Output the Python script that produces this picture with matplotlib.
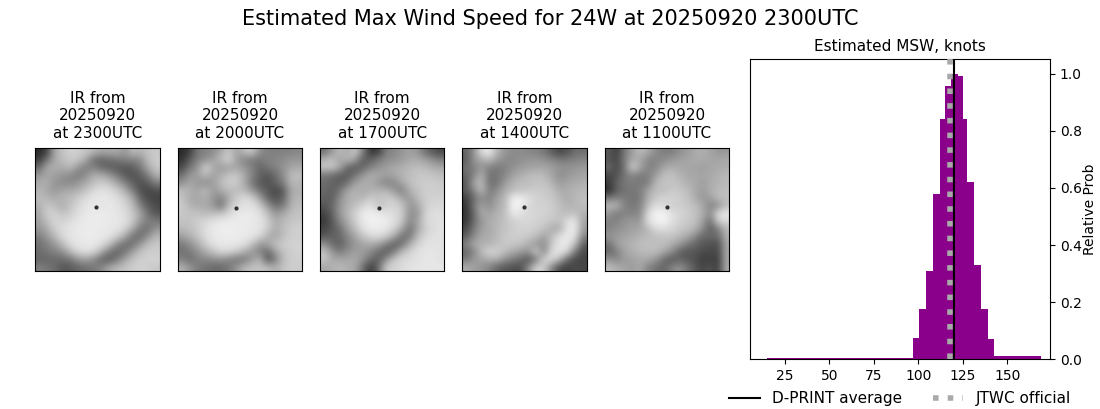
from matplotlib import pyplot as plt

#%% Data
main_title = "Estimated Max Wind Speed for 24W at 20250920 2300UTC"
ir_times = ["2300UTC", "2000UTC", "1700UTC", "1400UTC", "1100UTC"]

# Histogram
bin_edges = [15, 97, 100.4, 104.3, 108.3, 112.2, 115, 118.4, 122.3, 125, 127.4, 131.3, 135.2, 139.2, 142.6, 169]
rel_prob = [0.006, 0.075, 0.175, 0.31, 0.58, 0.84, 0.955, 1.0, 0.99, 0.84, 0.62, 0.33, 0.175, 0.07, 0.012]
dprint_avg = 120.2
jtwc_official = 118

# Coarse brightness of each IR panel (0-255), estimated by eye on a 16x16 grid
ir_2300 = [
    [40, 60, 170, 195, 210, 205, 200, 185, 170, 170, 175, 150, 190, 180, 195, 200],
    [60, 110, 170, 190, 200, 200, 170, 110, 100, 110, 120, 130, 130, 140, 190, 205],
    [100, 170, 175, 170, 190, 150, 125, 130, 105, 95, 90, 85, 95, 120, 170, 200],
    [150, 165, 160, 150, 140, 120, 140, 175, 170, 150, 120, 90, 80, 95, 130, 180],
    [170, 175, 150, 140, 135, 150, 170, 190, 205, 195, 165, 130, 95, 80, 95, 130],
    [180, 170, 150, 165, 170, 175, 195, 215, 225, 220, 205, 175, 125, 80, 70, 80],
    [190, 180, 170, 185, 185, 205, 220, 230, 232, 230, 220, 205, 170, 100, 75, 65],
    [175, 200, 190, 170, 195, 215, 228, 232, 225, 232, 228, 215, 190, 130, 90, 75],
    [165, 205, 210, 195, 205, 222, 232, 235, 235, 232, 230, 222, 200, 165, 110, 85],
    [160, 190, 215, 210, 220, 230, 235, 235, 235, 232, 230, 225, 205, 150, 130, 120],
    [150, 170, 205, 220, 228, 232, 235, 235, 232, 232, 228, 215, 170, 120, 110, 150],
    [125, 150, 185, 215, 228, 232, 235, 235, 232, 228, 210, 170, 115, 105, 150, 185],
    [110, 130, 150, 190, 220, 230, 232, 232, 225, 195, 140, 110, 110, 155, 190, 200],
    [110, 120, 130, 140, 185, 215, 225, 215, 175, 120, 100, 115, 160, 195, 205, 205],
    [100, 100, 105, 110, 115, 150, 160, 140, 100, 90, 120, 165, 195, 205, 210, 210],
    [130, 120, 110, 85, 90, 100, 110, 120, 135, 170, 185, 195, 205, 210, 205, 200],
]
ir_2000 = [
    [40, 60, 120, 130, 140, 165, 200, 160, 190, 205, 140, 130, 125, 130, 130, 135],
    [50, 90, 130, 140, 160, 190, 215, 160, 130, 120, 120, 130, 135, 140, 150, 150],
    [70, 120, 145, 215, 175, 150, 160, 165, 150, 130, 100, 120, 130, 150, 165, 170],
    [110, 150, 160, 190, 160, 175, 195, 200, 170, 130, 100, 85, 110, 140, 190, 190],
    [140, 170, 150, 140, 155, 190, 205, 205, 170, 120, 90, 80, 100, 130, 185, 180],
    [190, 175, 165, 190, 155, 170, 190, 185, 185, 150, 110, 90, 70, 90, 170, 175],
    [195, 170, 165, 175, 150, 130, 170, 205, 220, 210, 160, 100, 80, 100, 175, 180],
    [205, 180, 170, 170, 155, 110, 190, 215, 225, 225, 205, 150, 110, 120, 180, 190],
    [200, 195, 195, 185, 190, 195, 215, 230, 235, 232, 225, 190, 150, 170, 190, 195],
    [195, 195, 205, 215, 225, 232, 235, 235, 235, 232, 230, 205, 170, 185, 195, 200],
    [185, 190, 205, 222, 232, 238, 238, 235, 235, 232, 228, 205, 170, 190, 205, 210],
    [160, 175, 195, 220, 232, 235, 235, 235, 232, 230, 215, 175, 165, 190, 205, 205],
    [120, 145, 170, 205, 225, 232, 232, 232, 225, 195, 150, 165, 195, 205, 210, 210],
    [115, 120, 145, 170, 195, 215, 215, 200, 175, 150, 130, 105, 160, 195, 205, 210],
    [130, 110, 130, 135, 140, 145, 130, 115, 120, 155, 185, 80, 130, 190, 205, 205],
    [180, 150, 125, 115, 105, 105, 120, 150, 185, 195, 195, 190, 175, 195, 205, 205],
]
ir_1700 = [
    [110, 150, 190, 165, 205, 130, 50, 60, 130, 135, 150, 160, 150, 110, 85, 70],
    [175, 195, 160, 190, 160, 90, 100, 125, 140, 145, 155, 170, 170, 160, 140, 125],
    [200, 200, 175, 100, 90, 100, 130, 145, 160, 170, 175, 185, 190, 185, 175, 165],
    [120, 110, 95, 90, 115, 150, 175, 170, 160, 170, 180, 190, 200, 200, 195, 190],
    [110, 100, 90, 110, 160, 175, 170, 150, 130, 135, 170, 190, 200, 205, 205, 200],
    [105, 95, 115, 165, 180, 170, 175, 180, 180, 150, 125, 180, 195, 205, 205, 205],
    [100, 90, 140, 175, 180, 180, 205, 195, 205, 200, 165, 150, 190, 205, 210, 210],
    [85, 100, 150, 175, 190, 215, 225, 190, 205, 215, 200, 150, 165, 205, 215, 215],
    [65, 95, 150, 185, 210, 235, 240, 235, 225, 220, 205, 140, 150, 210, 225, 220],
    [55, 85, 135, 170, 205, 232, 240, 240, 235, 225, 200, 135, 165, 215, 220, 225],
    [70, 85, 110, 155, 190, 225, 235, 235, 230, 210, 170, 110, 165, 205, 220, 225],
    [85, 100, 100, 135, 165, 195, 215, 220, 205, 170, 110, 120, 190, 215, 225, 225],
    [150, 110, 95, 125, 150, 165, 170, 160, 130, 90, 110, 175, 210, 225, 225, 225],
    [195, 155, 120, 145, 160, 155, 140, 110, 85, 125, 190, 210, 225, 230, 230, 225],
    [200, 170, 170, 165, 170, 150, 110, 90, 150, 205, 215, 220, 225, 230, 230, 225],
    [165, 175, 185, 175, 170, 110, 55, 110, 205, 210, 220, 225, 230, 230, 230, 230],
]
ir_1400 = [
    [100, 140, 225, 235, 180, 150, 140, 140, 135, 130, 120, 90, 70, 80, 110, 110],
    [90, 150, 170, 190, 155, 140, 135, 145, 150, 150, 145, 135, 120, 125, 130, 135],
    [110, 130, 150, 130, 120, 130, 145, 155, 160, 165, 165, 160, 150, 145, 150, 155],
    [100, 125, 185, 110, 120, 135, 160, 175, 185, 190, 185, 165, 140, 150, 160, 165],
    [80, 170, 185, 115, 115, 155, 180, 190, 190, 195, 195, 180, 155, 165, 170, 175],
    [90, 130, 195, 120, 140, 175, 185, 195, 200, 205, 200, 195, 170, 175, 180, 185],
    [60, 110, 140, 130, 165, 180, 240, 240, 225, 210, 205, 200, 185, 170, 185, 190],
    [50, 120, 165, 140, 170, 185, 245, 240, 215, 210, 210, 205, 190, 180, 180, 190],
    [50, 100, 175, 160, 180, 190, 235, 225, 215, 215, 210, 205, 195, 185, 195, 175],
    [50, 110, 150, 175, 180, 195, 205, 215, 215, 210, 205, 200, 190, 225, 230, 160],
    [70, 120, 160, 170, 185, 195, 205, 210, 210, 205, 195, 170, 170, 230, 235, 155],
    [90, 140, 170, 170, 185, 200, 205, 205, 200, 190, 160, 190, 225, 235, 225, 130],
    [130, 170, 175, 180, 190, 200, 200, 195, 175, 150, 140, 200, 230, 235, 190, 90],
    [100, 130, 190, 215, 210, 190, 170, 155, 145, 210, 130, 225, 230, 215, 120, 70],
    [120, 155, 160, 175, 175, 145, 125, 110, 80, 120, 215, 220, 185, 100, 70, 70],
    [175, 160, 150, 130, 100, 85, 80, 75, 140, 215, 205, 130, 70, 65, 75, 70],
]
ir_1100 = [
    [90, 60, 120, 160, 190, 170, 140, 125, 125, 140, 155, 170, 175, 165, 150, 150],
    [85, 70, 125, 170, 165, 135, 130, 140, 150, 160, 165, 170, 170, 165, 165, 170],
    [110, 70, 115, 215, 170, 130, 135, 165, 175, 170, 165, 165, 160, 165, 170, 170],
    [70, 80, 120, 135, 120, 130, 155, 190, 195, 180, 170, 165, 165, 170, 175, 185],
    [60, 100, 120, 125, 120, 120, 185, 195, 195, 190, 175, 170, 160, 170, 180, 185],
    [40, 95, 115, 120, 125, 165, 190, 190, 200, 200, 190, 170, 155, 175, 185, 190],
    [120, 130, 125, 115, 120, 175, 200, 210, 215, 205, 195, 175, 150, 160, 190, 190],
    [185, 185, 130, 120, 130, 190, 225, 215, 205, 205, 200, 190, 170, 130, 140, 190],
    [150, 120, 130, 130, 135, 220, 240, 245, 225, 215, 205, 195, 175, 140, 225, 235],
    [130, 130, 150, 155, 150, 225, 240, 245, 225, 210, 200, 195, 160, 110, 210, 215],
    [130, 145, 150, 160, 165, 185, 220, 220, 215, 200, 195, 180, 145, 90, 130, 185],
    [150, 155, 165, 170, 180, 185, 190, 195, 195, 185, 170, 140, 100, 110, 105, 180],
    [110, 160, 170, 180, 190, 195, 190, 190, 175, 155, 125, 100, 90, 80, 75, 170],
    [100, 125, 165, 175, 185, 185, 190, 170, 145, 100, 85, 90, 75, 75, 70, 170],
    [150, 135, 155, 160, 170, 170, 150, 110, 85, 100, 90, 80, 60, 65, 60, 170],
    [190, 175, 165, 155, 170, 130, 115, 100, 130, 150, 120, 90, 70, 85, 60, 175],
]
ir_panels = [ir_2300, ir_2000, ir_1700, ir_1400, ir_1100]

# Eye of the storm in each panel, as fractions of the panel
eye_x = [0.49, 0.468, 0.473, 0.495, 0.50]
eye_y = [0.52, 0.51, 0.513, 0.52, 0.52]

#%% Display
W, H = 1100, 409
def px_axes(left, top, right, bottom):
    """Axes from pixel edges of the picture (y measured from the top)"""
    return fig.add_axes([left / W, 1 - bottom / H, (right - left) / W, (bottom - top) / H])

fig = plt.figure(figsize=(W / 100, H / 100), dpi=100)
fig.suptitle(main_title, fontsize=15, y=0.978)

panel_lefts = [35.2, 177.7, 320, 462.2, 604.7]
for left, grid, time, ex, ey in zip(panel_lefts, ir_panels, ir_times, eye_x, eye_y):
    ax = px_axes(left, 148, left + 124.5, 271)
    ax.imshow(grid, cmap='gray', vmin=0, vmax=255, interpolation='bicubic',
              aspect='auto', extent=(0, 1, 0, 1))
    ax.plot(ex, ey, 'o', color='#303030', markersize=3, markeredgewidth=0)
    ax.set_xlim(0, 1)
    ax.set_ylim(0, 1)
    ax.set_xticks([])
    ax.set_yticks([])
    ax.set_title(f"IR from\n20250920\nat {time}", fontsize=11, pad=7.5)

ax = px_axes(750, 59.3, 1050, 359.3)
ax.stairs(rel_prob, bin_edges, fill=True, color='darkmagenta')
ax.axvline(dprint_avg, color='k', lw=1.5, label='D-PRINT average', zorder=4)
ax.axvline(jtwc_official, color='darkgray', lw=4, ls=':', label='JTWC official', zorder=3)
ax.set_xlim(5.3, 174)
ax.set_ylim(0, 1.05)
ax.set_xticks([25, 50, 75, 100, 125, 150])
ax.yaxis.tick_right()
ax.yaxis.set_label_position('right')
ax.set_ylabel('Relative Prob', labelpad=1)
ax.set_title('Estimated MSW, knots', fontsize=11)
ax.tick_params(labelsize=10)
ax.legend(loc='upper center', bbox_to_anchor=(0.5, -0.06), ncol=2, frameon=False,
          fontsize=11, columnspacing=2)

fig.savefig('out.png', dpi=100)
